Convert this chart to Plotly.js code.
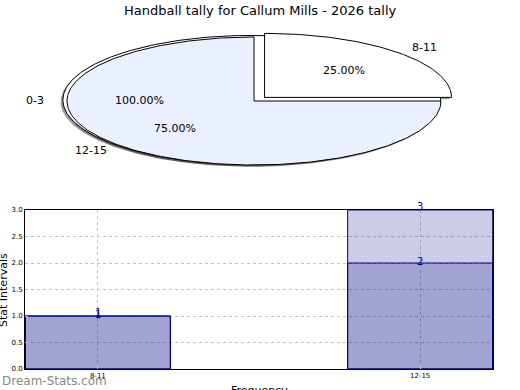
<!DOCTYPE html>
<html>
<head>
<meta charset="utf-8">
<script src="https://cdn.plot.ly/plotly-3.0.1.min.js"></script>
<style>html,body{margin:0;padding:0;background:#fff;}#chart{width:520px;height:390px;}</style>
</head>
<body>
<div id="chart"></div>
<script>
// ---- data ----
var chartTitle = "Handball tally for Callum Mills - 2026 tally";
var pieLabels = ["0-3", "8-11", "12-15"];
var pieFractions = [1.00, 0.25, 0.75];
var pieExplode = [0, 0.08, 0];
var pieColors = ["#ffffff", "#ffffff", "#eaf0fd"];

var barCategories = ["8-11", "12-15"];
var seriesA = [1, 2];
var seriesB = [1, 3];
var yTickVals = [0, 0.5, 1.0, 1.5, 2.0, 2.5, 3.0];

// ---- pie geometry (unit ellipse on a hidden xy subplot) ----
var W = 520, H = 390;
var cxPx = 254, cyPx = 101, rxPx = 187, ryPx = 64;
var pieX0 = -cxPx / rxPx, pieX1 = (W - cxPx) / rxPx;
var pieTopPx = 0, pieBotPx = 195;
var pieY1 = (cyPx - pieTopPx) / ryPx, pieY0 = -(pieBotPx - cyPx) / ryPx;

function slicePath(t1, t2, dx, dy, r, full) {
  var xs = [], ys = [];
  if (!full) { xs.push(dx); ys.push(dy); }
  for (var a = t1; a <= t2 + 1e-9; a += 1) {
    var rad = a * Math.PI / 180;
    xs.push(dx + r * Math.cos(rad)); ys.push(dy + r * Math.sin(rad));
  }
  if (!full) { xs.push(dx); ys.push(dy); }
  return {x: xs, y: ys};
}

var traces = [];
var annotations = [];
var start = 0;
var pieShapes = [];
for (var i = 0; i < pieLabels.length; i++) {
  var t1 = start, t2 = start + 360 * pieFractions[i];
  var mid = (t1 + t2) / 2 * Math.PI / 180;
  var ex = pieExplode[i];
  var dx = ex * Math.cos(mid), dy = ex * Math.sin(mid);
  var full = pieFractions[i] >= 1;
  if (full) { dx = -0.012; dy = 0.015; }
  pieShapes.push({t1: t1, t2: t2, dx: dx, dy: dy, full: full, color: pieColors[i]});
  annotations.push({xref: "x2", yref: "y2", x: dx + 1.1 * Math.cos(mid), y: dy + 1.1 * Math.sin(mid),
    text: pieLabels[i], showarrow: false, font: {family: "DejaVu Sans", size: 11, color: "#000"},
    xanchor: Math.cos(mid) < -0.01 ? "right" : (Math.cos(mid) > 0.01 ? "left" : "center")});
  annotations.push({xref: "x2", yref: "y2", x: dx + 0.6 * Math.cos(mid), y: dy + 0.6 * Math.sin(mid),
    text: (pieFractions[i] * 100).toFixed(2) + "%", showarrow: false,
    font: {family: "DejaVu Sans", size: 11, color: "#000"}});
  start = t2;
}
// shadows
pieShapes.forEach(function (s) {
  var p = slicePath(s.t1, s.t2, s.dx - 0.012, s.dy - 0.028, s.full ? 1.01 : 1, s.full);
  traces.push({type: "scatter", mode: "lines", x: p.x, y: p.y, fill: "toself", fillcolor: "rgba(0,0,0,0.4)",
    line: {width: 0}, xaxis: "x2", yaxis: "y2", hoverinfo: "skip", showlegend: false});
});
pieShapes.forEach(function (s) {
  var p = slicePath(s.t1, s.t2, s.dx, s.dy, s.full ? 1.01 : 1, s.full);
  traces.push({type: "scatter", mode: "lines", x: p.x, y: p.y, fill: "toself", fillcolor: s.color,
    line: {color: "#000", width: 1}, xaxis: "x2", yaxis: "y2", hoverinfo: "skip", showlegend: false});
});

// ---- bars ----
[seriesB, seriesA].forEach(function (vals, k) {
  traces.push({type: "bar", x: barCategories, y: vals, width: 0.45,
    marker: {color: "rgba(0,0,128,0.2)", line: {color: "#000080", width: 1}},
    xaxis: "x", yaxis: "y", hoverinfo: "skip", showlegend: false});
  vals.forEach(function (v, j) {
    annotations.push({xref: "x", yref: "y", x: barCategories[j], y: v, text: String(v), showarrow: false,
      yanchor: "middle", yshift: k === 0 ? 4 : 2, font: {family: "DejaVu Sans", size: 10, color: "#000080"}});
  });
});

annotations.push({xref: "paper", yref: "paper", x: 0.5, y: 1 - 10 / H, yanchor: "middle", text: chartTitle,
  showarrow: false, font: {family: "DejaVu Sans", size: 13, color: "#000"}});
annotations.push({xref: "paper", yref: "paper", x: 3 / W, y: (H - 290) / H, text: "Stat Intervals", textangle: -90,
  showarrow: false, xanchor: "center", yanchor: "middle", font: {family: "DejaVu Sans", size: 11, color: "#000"}});
annotations.push({xref: "paper", yref: "paper", x: 259 / W, y: 0, yanchor: "top", yshift: 8, text: "Frequency",
  showarrow: false, font: {family: "DejaVu Sans", size: 11, color: "#000"}});
annotations.push({xref: "paper", yref: "paper", x: 0, y: (H - 381) / H, xanchor: "left", yanchor: "middle", text: "Dream-Stats.com",
  showarrow: false, font: {family: "DejaVu Sans", size: 12, color: "#888888"}});

var layout = {
  width: W, height: H, margin: {l: 0, r: 0, t: 0, b: 0}, paper_bgcolor: "#fff", plot_bgcolor: "#fff",
  barmode: "overlay", showlegend: false,
  xaxis: {domain: [25 / W, 493 / W], anchor: "y", type: "category", range: [-0.226, 1.226],
    showgrid: true, gridcolor: "#c4c4c4", griddash: "dot", gridwidth: 1,
    showline: true, linecolor: "#000", linewidth: 1, mirror: true,
    ticks: "inside", ticklen: 3, tickcolor: "#bbb", tickfont: {family: "DejaVu Sans", size: 7, color: "#000"}, fixedrange: true},
  yaxis: {domain: [21 / H, 180 / H], anchor: "x", range: [0, 3], tickvals: yTickVals, tickformat: ".1f",
    showgrid: true, gridcolor: "#c4c4c4", griddash: "dot", gridwidth: 1, zeroline: false,
    showline: true, linecolor: "#000", linewidth: 1, mirror: true,
    ticks: "inside", ticklen: 3, tickcolor: "#bbb", tickfont: {family: "DejaVu Sans", size: 7, color: "#000"}, fixedrange: true},
  xaxis2: {domain: [0, 1], anchor: "y2", range: [pieX0, pieX1], visible: false, fixedrange: true},
  yaxis2: {domain: [1 - pieBotPx / H, 1 - pieTopPx / H], anchor: "x2", range: [pieY0, pieY1], visible: false, fixedrange: true},
  annotations: annotations
};
Plotly.newPlot("chart", traces, layout, {staticPlot: true, displayModeBar: false});
</script>
</body>
</html>
